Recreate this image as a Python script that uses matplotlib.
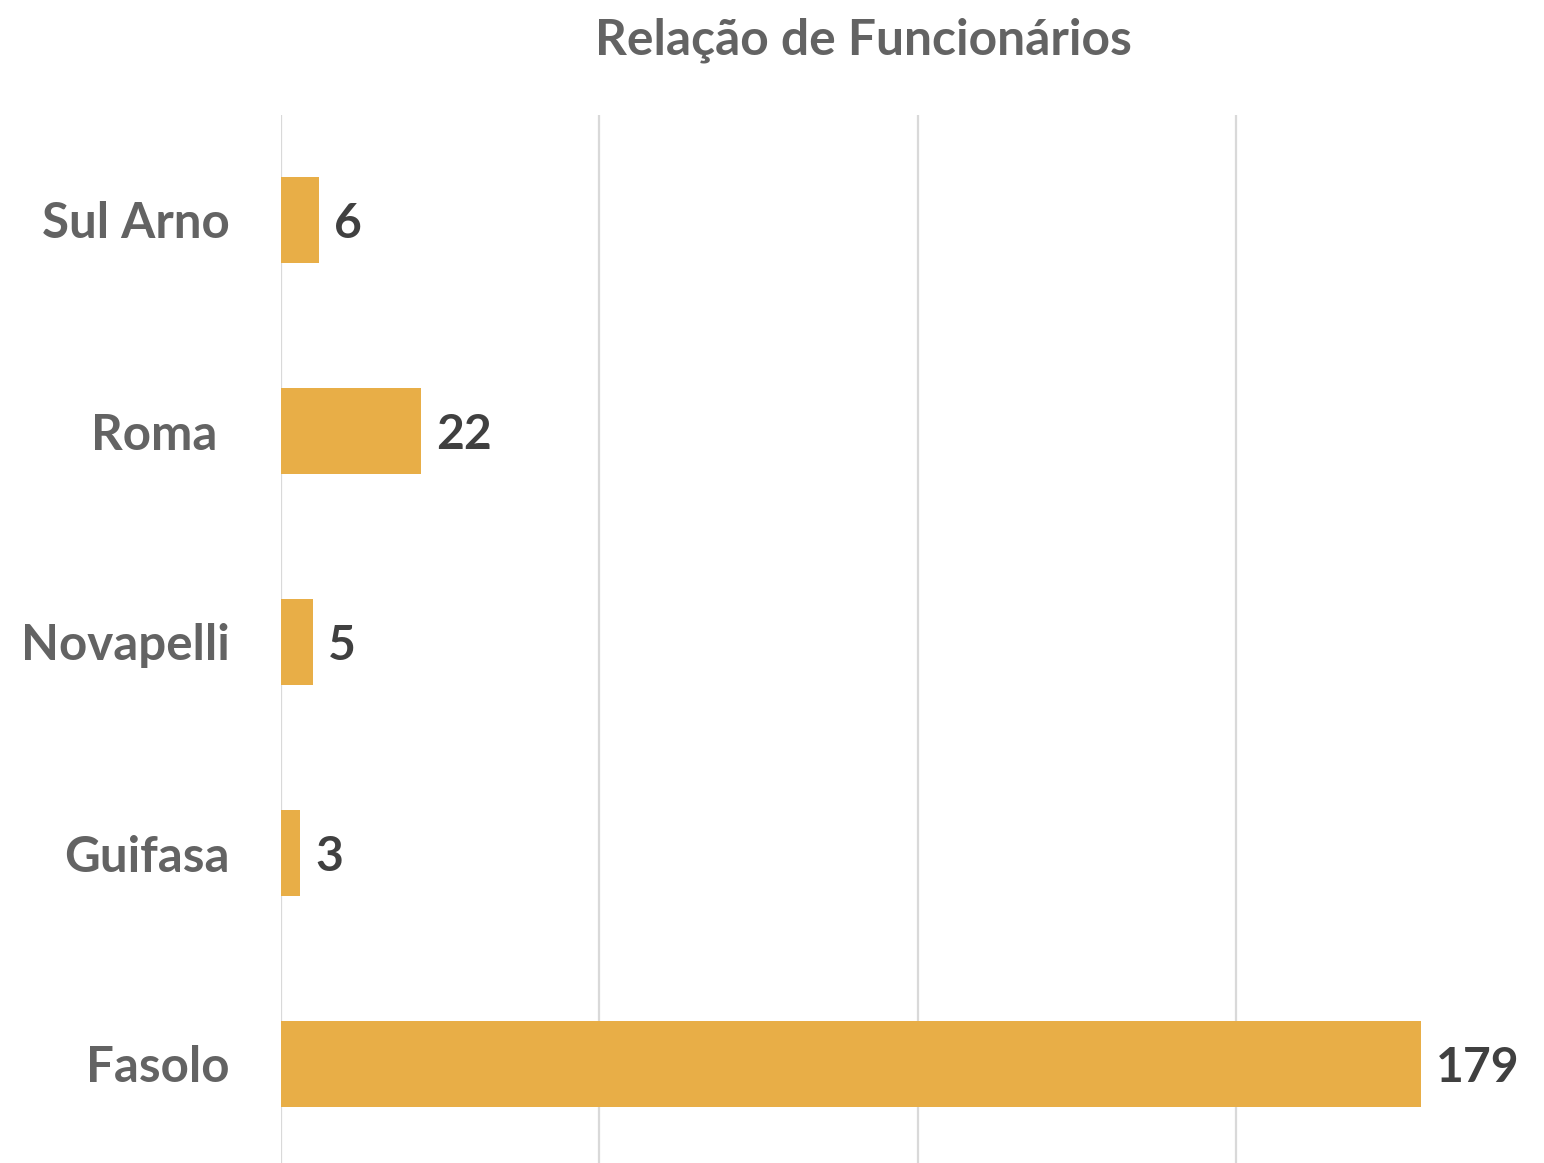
import matplotlib
matplotlib.use("Agg")
import matplotlib.pyplot as plt

categories = ["Sul Arno", "Roma ", "Novapelli", "Guifasa", "Fasolo"]
values = [6, 22, 5, 3, 179]
title = "Relação de Funcionários"
xticks = [0, 50, 100, 150]

W, H = 1544, 1163
fig = plt.figure(figsize=(W / 100, H / 100), dpi=100)
left = 281 / W
right = 1.0
top = (H - 114.5) / H
bottom = (H - 1169.5) / H
ax = fig.add_axes([left, bottom, right - left, top - bottom])

font = "Lato"
bar_color = "#E8AE47"
ypos = list(range(len(categories)))
ax.barh(ypos, values, height=0.405, color=bar_color, zorder=3)
ax.set_xlim(0, (W - 281) / 6.368)
ax.set_ylim(len(categories) - 0.5, -0.5)
ax.set_xticks(xticks)
ax.set_xticklabels([])
ax.set_yticks(ypos)
ax.set_yticklabels(categories, fontsize=35.5, fontweight="bold", color="#636363", family=font)
for lbl in ax.get_yticklabels():
    lbl.set_verticalalignment("center_baseline")
ax.tick_params(axis="both", length=0, pad=37)
ax.grid(axis="x", color="#D9D9D9", linewidth=1.6, zorder=0)
for s in ax.spines.values():
    s.set_visible(False)
for y, v in zip(ypos, values):
    ax.text(v + 2.4, y, str(v), va="center_baseline", ha="left", fontsize=34.6, fontweight="bold",
            color="#404040", family=font)
fig.text(863 / W, (H - 40) / H, title, ha="center", va="center", fontsize=35.8,
         fontweight="bold", color="#636363", family=font)
fig.savefig("out.png", dpi=100)
